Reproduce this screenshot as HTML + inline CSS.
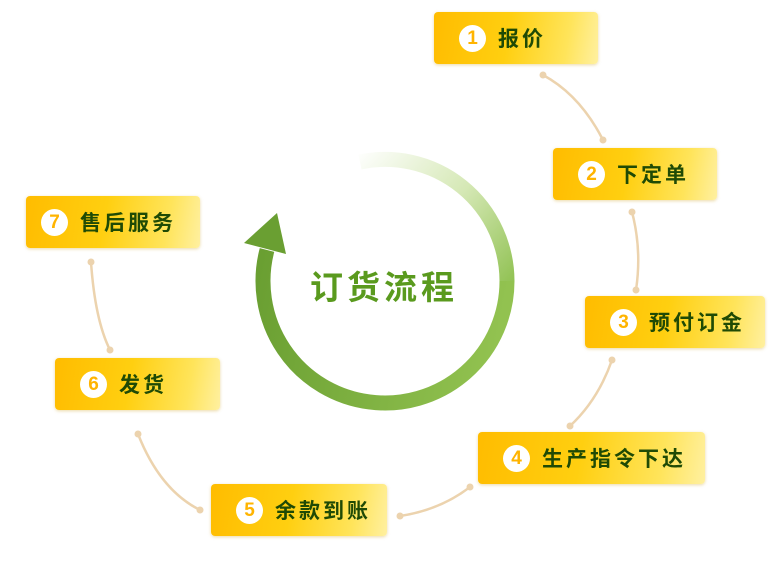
<!DOCTYPE html>
<html><head><meta charset="utf-8"><style>
body{margin:0;background:#fff;width:780px;height:572px;overflow:hidden;position:relative;font-family:"Liberation Sans","Noto Sans CJK SC",sans-serif}
.b{position:absolute;height:52px;border-radius:4px;background:linear-gradient(100deg,#ffbc00 0%,#ffcf10 45%,#ffe45a 80%,#fff0a0 100%);box-shadow:0 1px 3px rgba(200,150,0,.35);display:flex;align-items:center}
.n{width:27px;height:27px;border-radius:50%;background:#fff;color:#ffb400;font-weight:bold;font-size:19px;text-align:center;line-height:27px;margin-left:25px;margin-right:12px}
.t{font-weight:bold;font-size:21px;color:#1f4a05;letter-spacing:3px}
svg{position:absolute;left:0;top:0}
</style></head><body>
<svg width="780" height="572">
<defs>
<linearGradient id="g1" gradientUnits="userSpaceOnUse" x1="350" y1="159" x2="507" y2="300">
<stop offset="0" stop-color="#fff"/><stop offset="0.5" stop-color="#d5e8b5"/><stop offset="1" stop-color="#8cbf4c"/></linearGradient>
<linearGradient id="g2" gradientUnits="userSpaceOnUse" x1="507" y1="300" x2="263" y2="250">
<stop offset="0" stop-color="#92c250"/><stop offset="1" stop-color="#6a9f32"/></linearGradient>
</defs>
<path d="M360 162 A122 122 0 0 1 507 281" fill="none" stroke="url(#g1)" stroke-width="15"/>
<path d="M507 281 A122 122 0 1 1 267 250" fill="none" stroke="url(#g2)" stroke-width="15"/>
<polygon points="277,213 244,243 286,254" fill="#6a9f32"/>
<text x="384" y="299" text-anchor="middle" font-size="33" font-weight="bold" fill="#5a9a1e" font-family="Liberation Sans,Noto Sans CJK SC,sans-serif" letter-spacing="4">订货流程</text>
<g fill="none" stroke="#ecd3ae" stroke-width="2.5">
<path d="M543 75 Q580 95 603 140"/>
<path d="M632 212 Q642 250 636 290"/>
<path d="M612 360 Q598 400 570 426"/>
<path d="M470 487 Q440 510 400 516"/>
<path d="M200 510 Q160 490 138 434"/>
<path d="M110 350 Q95 320 91 262"/>
</g>
<g fill="#ecd3ae">
<circle cx="543" cy="75" r="3.5"/><circle cx="603" cy="140" r="3.5"/>
<circle cx="632" cy="212" r="3.5"/><circle cx="636" cy="290" r="3.5"/>
<circle cx="612" cy="360" r="3.5"/><circle cx="570" cy="426" r="3.5"/>
<circle cx="470" cy="487" r="3.5"/><circle cx="400" cy="516" r="3.5"/>
<circle cx="200" cy="510" r="3.5"/><circle cx="138" cy="434" r="3.5"/>
<circle cx="110" cy="350" r="3.5"/><circle cx="91" cy="262" r="3.5"/>
</g>
</svg>
<div class="b" style="left:434px;top:12px;width:164px"><div class="n">1</div><div class="t">报价</div></div>
<div class="b" style="left:553px;top:148px;width:164px"><div class="n">2</div><div class="t">下定单</div></div>
<div class="b" style="left:585px;top:296px;width:180px"><div class="n">3</div><div class="t">预付订金</div></div>
<div class="b" style="left:478px;top:432px;width:227px"><div class="n">4</div><div class="t">生产指令下达</div></div>
<div class="b" style="left:211px;top:484px;width:176px"><div class="n">5</div><div class="t">余款到账</div></div>
<div class="b" style="left:55px;top:358px;width:165px"><div class="n">6</div><div class="t">发货</div></div>
<div class="b" style="left:26px;top:196px;width:174px"><div class="n" style="margin-left:15px">7</div><div class="t">售后服务</div></div>
</body></html>
